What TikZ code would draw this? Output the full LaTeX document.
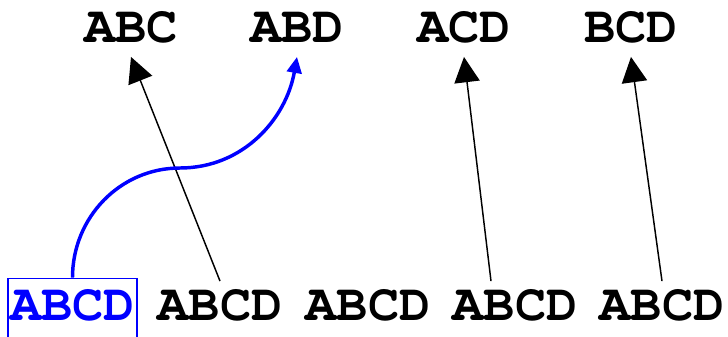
\documentclass[tikz,border=0pt]{standalone}
\usepackage[T1,TU]{fontenc}
\usetikzlibrary{arrows.meta}

% bold Courier for all labels
\newcommand{\setfont}{\fontencoding{T1}\fontfamily{pcr}\fontseries{b}\fontsize{39}{39}\selectfont}

\tikzset{
  word/.style={font=\setfont, anchor=base,
    text height=21pt, text depth=0pt, inner xsep=1.6pt},
  subset/.style={word, inner ysep=11pt},
  full/.style={word, inner ysep=8pt},
  chosen/.style={full, blue, draw=blue, line width=1.1pt, inner ysep=10.3pt, text depth=6pt},
  drop/.style={line width=1.1pt, -{Triangle[length=19pt,width=19pt]}},
  keep/.style={blue, line width=2.6pt, -{Triangle[length=12pt,width=11pt]}}
}

\begin{document}
\begin{tikzpicture}[x=0.75pt,y=0.75pt,yscale=-1]
\useasboundingbox (0,0) rectangle (728,336);

% three-letter subsets
\node[subset] (abc) at (131,42) {ABC};
\node[subset] (abd) at (297,42) {ABD};
\node[subset] (acd) at (464,42) {ACD};
\node[subset] (bcd) at (631,42) {BCD};

% copies of the full set
\node[chosen] (s1) at (72.5,320) {ABCD};
\node[full] (s2) at (220,320) {ABCD};
\node[full] (s3) at (368,320) {ABCD};
\node[full] (s4) at (515,320) {ABCD};
\node[full] (s5) at (662,320) {ABCD};

\coordinate (bend) at (180,168);
\coordinate (s4top) at ([xshift=-18pt]s4.north);

% edges (yscale=-1, so "up" is -90)
\draw[drop] (s2.north) -- (abc.south);
\draw[drop] (s4top) -- (acd.south);
\draw[drop] (s5.north) -- (bcd.south);
\draw[keep] (s1.north) to[out=-90,in=180] (bend) to[out=0,in=100] (abd.south);

\end{tikzpicture}
\end{document}
